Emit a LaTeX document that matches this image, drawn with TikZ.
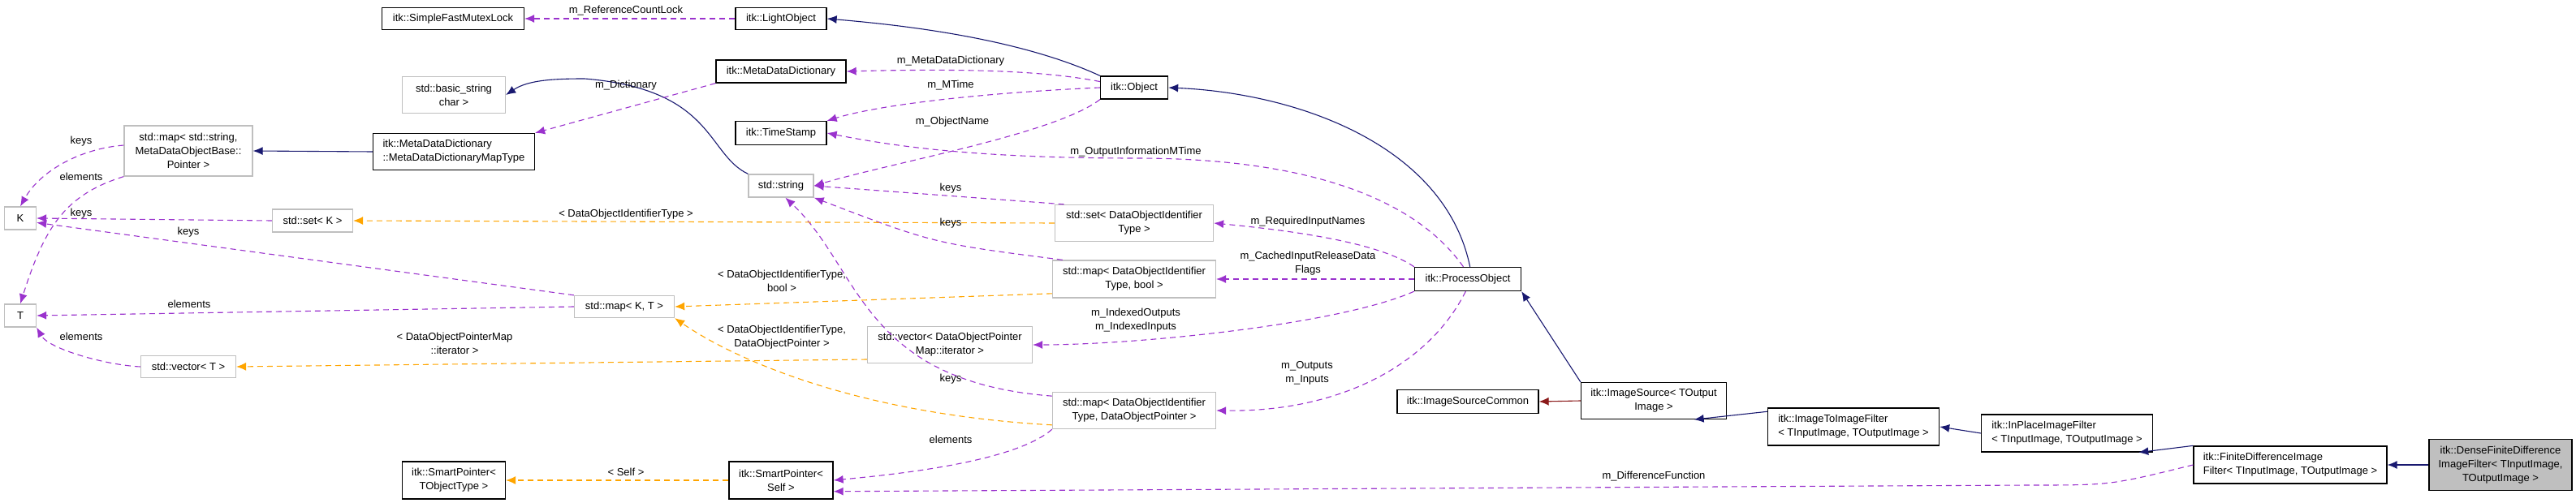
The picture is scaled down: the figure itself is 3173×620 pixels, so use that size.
\documentclass[tikz,border=0pt]{standalone}
\usepackage{fontspec}
\setmainfont{Liberation Sans}
\usetikzlibrary{arrows.meta}
\definecolor{cuse}{HTML}{9A32CD}
\definecolor{ctpl}{HTML}{FFA500}
\definecolor{cinh}{HTML}{191970}
\definecolor{cpriv}{HTML}{8B1A1A}
\definecolor{cgray}{HTML}{BFBFBF}
\tikzset{
  box/.style={draw=black, line width=1.3pt, align=center, inner sep=2pt, font=\fontsize{13}{17}\selectfont},
  gbox/.style={box, draw=cgray},
  lbl/.style={font=\fontsize{13}{17}\selectfont, align=center, inner sep=0pt},
  use/.style={draw=cuse, line width=1.1pt, dash pattern=on 7pt off 5pt, -{Latex[length=12pt,width=10pt]}},
  tpl/.style={draw=ctpl, line width=1.1pt, dash pattern=on 7pt off 5pt, -{Latex[length=12pt,width=10pt]}},
  inh/.style={draw=cinh, line width=1.1pt, -{Latex[length=12pt,width=10pt]}},
  priv/.style={draw=cpriv, line width=1.1pt, -{Latex[length=12pt,width=10pt]}},
}
\begin{document}
\begin{tikzpicture}[x=1pt,y=-1pt]
\useasboundingbox (0,0) rectangle (3173,620);
% nodes
\node[box, minimum width=175, minimum height=27] (sfml) at (558,23) {itk::SimpleFastMutexLock};
\node[gbox, minimum width=127, minimum height=45] (basic) at (559,117) {std::basic\_string\\char >};
\node[gbox, minimum width=158, minimum height=62] (mapstr) at (232,186) {std::map< std::string,\\MetaDataObjectBase::\\Pointer >};
\node[box, minimum width=199, minimum height=45, align=left] (mapty) at (559,187) {itk::MetaDataDictionary\\::MetaDataDictionaryMapType};
\node[gbox, minimum width=39, minimum height=28] (K) at (25,269) {K};
\node[gbox, minimum width=99, minimum height=28] (setK) at (385,272) {std::set< K >};
\node[gbox, minimum width=39, minimum height=28] (T) at (25,389) {T};
\node[gbox, minimum width=123, minimum height=27] (mapKT) at (769,378) {std::map< K, T >};
\node[gbox, minimum width=117, minimum height=27] (vecT) at (232,452) {std::vector< T >};
\node[box, minimum width=127, minimum height=46] (spT) at (559,592) {itk::SmartPointer<\\TObjectType >};
\node[box, minimum width=112, minimum height=27] (light) at (962,23) {itk::LightObject};
\node[box, minimum width=160, minimum height=28] (mdd) at (962,88) {itk::MetaDataDictionary};
\node[box, minimum width=83, minimum height=28] (obj) at (1397,108) {itk::Object};
\node[box, minimum width=112, minimum height=29] (ts) at (962,164) {itk::TimeStamp};
\node[gbox, minimum width=80, minimum height=28] (str) at (962,229) {std::string};
\node[gbox, minimum width=195, minimum height=45] (setD) at (1397,275) {std::set< DataObjectIdentifier\\Type >};
\node[gbox, minimum width=201, minimum height=46] (mapB) at (1397,344) {std::map< DataObjectIdentifier\\Type, bool >};
\node[box, minimum width=131, minimum height=29] (po) at (1808,344) {itk::ProcessObject};
\node[gbox, minimum width=203, minimum height=45] (vecD) at (1170,425) {std::vector< DataObjectPointer\\Map::iterator >};
\node[gbox, minimum width=201, minimum height=45] (mapP) at (1397,506) {std::map< DataObjectIdentifier\\Type, DataObjectPointer >};
\node[box, minimum width=174, minimum height=29] (isc) at (1808,495) {itk::ImageSourceCommon};
\node[box, minimum width=128, minimum height=46] (spS) at (962,592) {itk::SmartPointer<\\Self >};
\node[box, minimum width=179, minimum height=45] (is) at (2037,494) {itk::ImageSource< TOutput\\Image >};
\node[box, minimum width=211, minimum height=46, align=left] (i2i) at (2283,526) {itk::ImageToImageFilter\\< TInputImage, TOutputImage >};
\node[box, minimum width=211, minimum height=46, align=left] (inp) at (2546,534) {itk::InPlaceImageFilter\\< TInputImage, TOutputImage >};
\node[box, minimum width=238, minimum height=46, align=left] (fd) at (2821,573) {itk::FiniteDifferenceImage\\Filter< TInputImage, TOutputImage >};
\node[box, fill=cgray, minimum width=176, minimum height=63] (dense) at (3080,573) {itk::DenseFiniteDifference\\ImageFilter< TInputImage,\\TOutputImage >};
% inheritance
\draw[inh] (obj.north west) .. controls (1250,45) and (1100,30) .. (light.east);
\draw[inh] (str.north west) .. controls (870,190) and (880,110) .. (720,97) .. controls (680,97) and (650,99) .. (basic.east);
\draw[inh] (mapty.west) -- (mapstr.east);
\draw[inh] (po.80) .. controls (1780,180) and (1600,115) .. (obj.east);
\draw[inh] (is.north west) -- (po.south east);
\draw[inh] (i2i.170) -- (is.-25);
\draw[inh] (inp.west) -- (i2i.east);
\draw[inh] (fd.north west) -- (inp.-15);
\draw[inh] (dense.west) -- (fd.east);
\draw[priv] (is.west) -- (isc.east);
% usage
\draw[use] (light.west) -- (sfml.east);
\draw[use] (obj.170) .. controls (1290,88) and (1200,84) .. (mdd.east);
\draw[use] (obj.west) .. controls (1200,115) and (1080,130) .. (ts.north east);
\draw[use] (obj.south west) .. controls (1300,165) and (1100,200) .. (str.east);
\draw[use] (po.110) .. controls (1740,240) and (1600,195) .. (1400,195) .. controls (1200,195) and (1100,180) .. (ts.east);
\draw[use] (po.north west) .. controls (1700,300) and (1600,285) .. (setD.east);
\draw[use] (po.west) -- (mapB.east);
\draw[use] (po.south west) .. controls (1650,400) and (1400,425) .. (vecD.east);
\draw[use] (po.-100) .. controls (1760,450) and (1650,508) .. (mapP.east);
\draw[use] (mdd.south west) -- (mapty.north east);
\draw[use] (setD.165) -- (str.east);
\draw[use] (mapB.165) .. controls (1150,300) .. (str.south east);
\draw[use] (mapP.170) .. controls (1060,470) and (1060,330) .. (str.-70);
\draw[use] (mapP.south west) .. controls (1250,570) and (1100,585) .. (spS.east);
\draw[use] (fd.west) .. controls (2600,598) .. (2500,598) -- (spS.-12);
\draw[use] (mapstr.175) .. controls (100,183) and (50,210) .. (K.north);
\draw[use] (mapstr.south west) .. controls (80,240) and (55,280) .. (T.north);
\draw[use] (setK.west) -- (K.east);
\draw[use] (mapKT.north west) -- (K.-15);
\draw[use] (mapKT.west) -- (T.east);
\draw[use] (vecT.west) .. controls (130,450) and (60,430) .. (T.south east);
% template
\draw[tpl] (setD.west) -- (setK.east);
\draw[tpl] (mapB.-170) -- (mapKT.east);
\draw[tpl] (mapP.-170) .. controls (1050,510) and (900,440) .. (mapKT.south east);
\draw[tpl] (vecD.-170) -- (vecT.east);
\draw[tpl] (spS.west) -- (spT.east);
% labels
\node[lbl] at (771,13) {m\_ReferenceCountLock};
\node[lbl] at (771,105) {m\_Dictionary};
\node[lbl] at (1171,75) {m\_MetaDataDictionary};
\node[lbl] at (1171,105) {m\_MTime};
\node[lbl] at (1173,150) {m\_ObjectName};
\node[lbl] at (1399,187) {m\_OutputInformationMTime};
\node[lbl] at (1171,232) {keys};
\node[lbl] at (1171,275) {keys};
\node[lbl] at (1611,273) {m\_RequiredInputNames};
\node[lbl] at (1611,325) {m\_CachedInputReleaseData\\Flags};
\node[lbl] at (1399,395) {m\_IndexedOutputs\\m\_IndexedInputs};
\node[lbl] at (1610,460) {m\_Outputs\\m\_Inputs};
\node[lbl] at (1171,467) {keys};
\node[lbl] at (1171,542) {elements};
\node[lbl] at (771,264) {< DataObjectIdentifierType >};
\node[lbl] at (963,346) {< DataObjectIdentifierType,\\bool >};
\node[lbl] at (963,416) {< DataObjectIdentifierType,\\DataObjectPointer >};
\node[lbl] at (560,423) {< DataObjectPointerMap\\::iterator >};
\node[lbl] at (771,582) {< Self >};
\node[lbl] at (2037,587) {m\_DifferenceFunction};
\node[lbl] at (100,174) {keys};
\node[lbl] at (100,218) {elements};
\node[lbl] at (100,263) {keys};
\node[lbl] at (232,286) {keys};
\node[lbl] at (233,375) {elements};
\node[lbl] at (100,415) {elements};
\end{tikzpicture}
\end{document}
